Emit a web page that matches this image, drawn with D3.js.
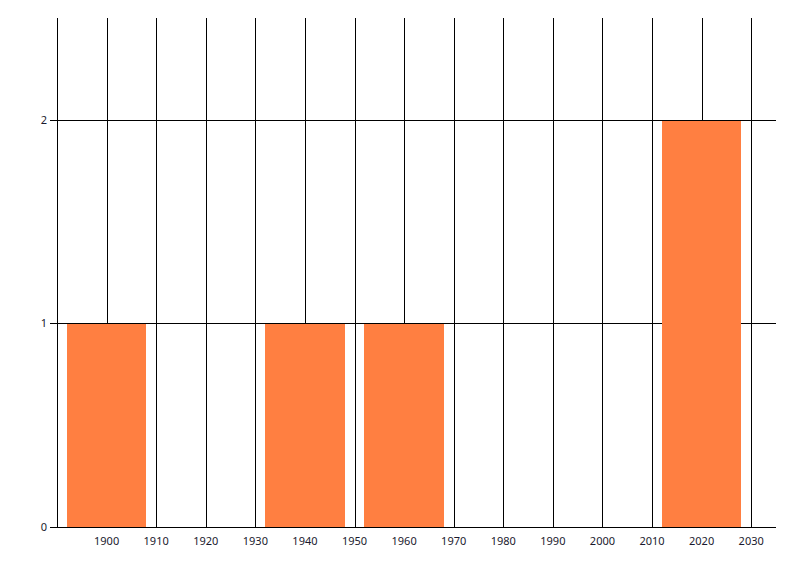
<!DOCTYPE html>
<html><head><meta charset="utf-8">
<script src="https://cdn.jsdelivr.net/npm/d3@7"></script>
<style>body{margin:0;background:#fff}svg{display:block}text{font-family:"Segoe UI","Noto Sans","DejaVu Sans",sans-serif;font-size:11px;fill:#1a1a2e}</style>
</head><body>
<script>
const binCenters = [1900, 1920, 1940, 1960, 1980, 2000, 2020];
const counts = [1, 0, 1, 1, 0, 0, 2];
const binWidth = 16;
const xTicks = [1900, 1910, 1920, 1930, 1940, 1950, 1960, 1970, 1980, 1990, 2000, 2010, 2020, 2030];
const yTicks = [0, 1, 2];
const xDomain = [1890, 2035];
const yDomain = [0, 2.5];

const W = 800, H = 576;
const m = {left: 57, right: 24, top: 18, bottom: 49};
const svg = d3.select("body").append("svg").attr("width", W).attr("height", H);
const x = d3.scaleLinear().domain(xDomain).range([m.left, W - m.right]);
const y = d3.scaleLinear().domain(yDomain).range([H - m.bottom, m.top]);
const px = v => Math.round(v) + 0.5;

// vertical gridlines
svg.append("g").selectAll("line").data(xTicks).join("line")
  .attr("x1", d => px(x(d))).attr("x2", d => px(x(d)))
  .attr("y1", m.top).attr("y2", H - m.bottom)
  .attr("stroke", "#000").attr("shape-rendering", "crispEdges");
// horizontal gridlines
svg.append("g").selectAll("line").data(yTicks).join("line")
  .attr("x1", m.left - 7).attr("x2", W - m.right)
  .attr("y1", d => px(y(d))).attr("y2", d => px(y(d)))
  .attr("stroke", "#000").attr("shape-rendering", "crispEdges");

// bars
svg.append("g").selectAll("rect").data(binCenters.map((c, i) => ({c, v: counts[i]})).filter(d => d.v > 0)).join("rect")
  .attr("x", d => x(d.c - binWidth / 2))
  .attr("width", d => x(d.c + binWidth / 2) - x(d.c - binWidth / 2))
  .attr("y", d => Math.round(y(d.v)) + 0.5)
  .attr("height", d => y(0) - Math.round(y(d.v)) - 0.5)
  .attr("fill", "#ff7f41").attr("shape-rendering", "crispEdges");

// y axis line
svg.append("line").attr("x1", px(m.left)).attr("x2", px(m.left))
  .attr("y1", m.top).attr("y2", px(y(0)))
  .attr("stroke", "#000").attr("shape-rendering", "crispEdges");

// y labels
svg.append("g").selectAll("text").data(yTicks).join("text")
  .attr("x", m.left - 10).attr("y", d => y(d) + 4)
  .attr("text-anchor", "end").text(d => d);
// x labels
svg.append("g").selectAll("text").data(xTicks).join("text")
  .attr("x", d => x(d)).attr("y", H - m.bottom + 18)
  .attr("text-anchor", "middle").text(d => d);
</script>
</body></html>
